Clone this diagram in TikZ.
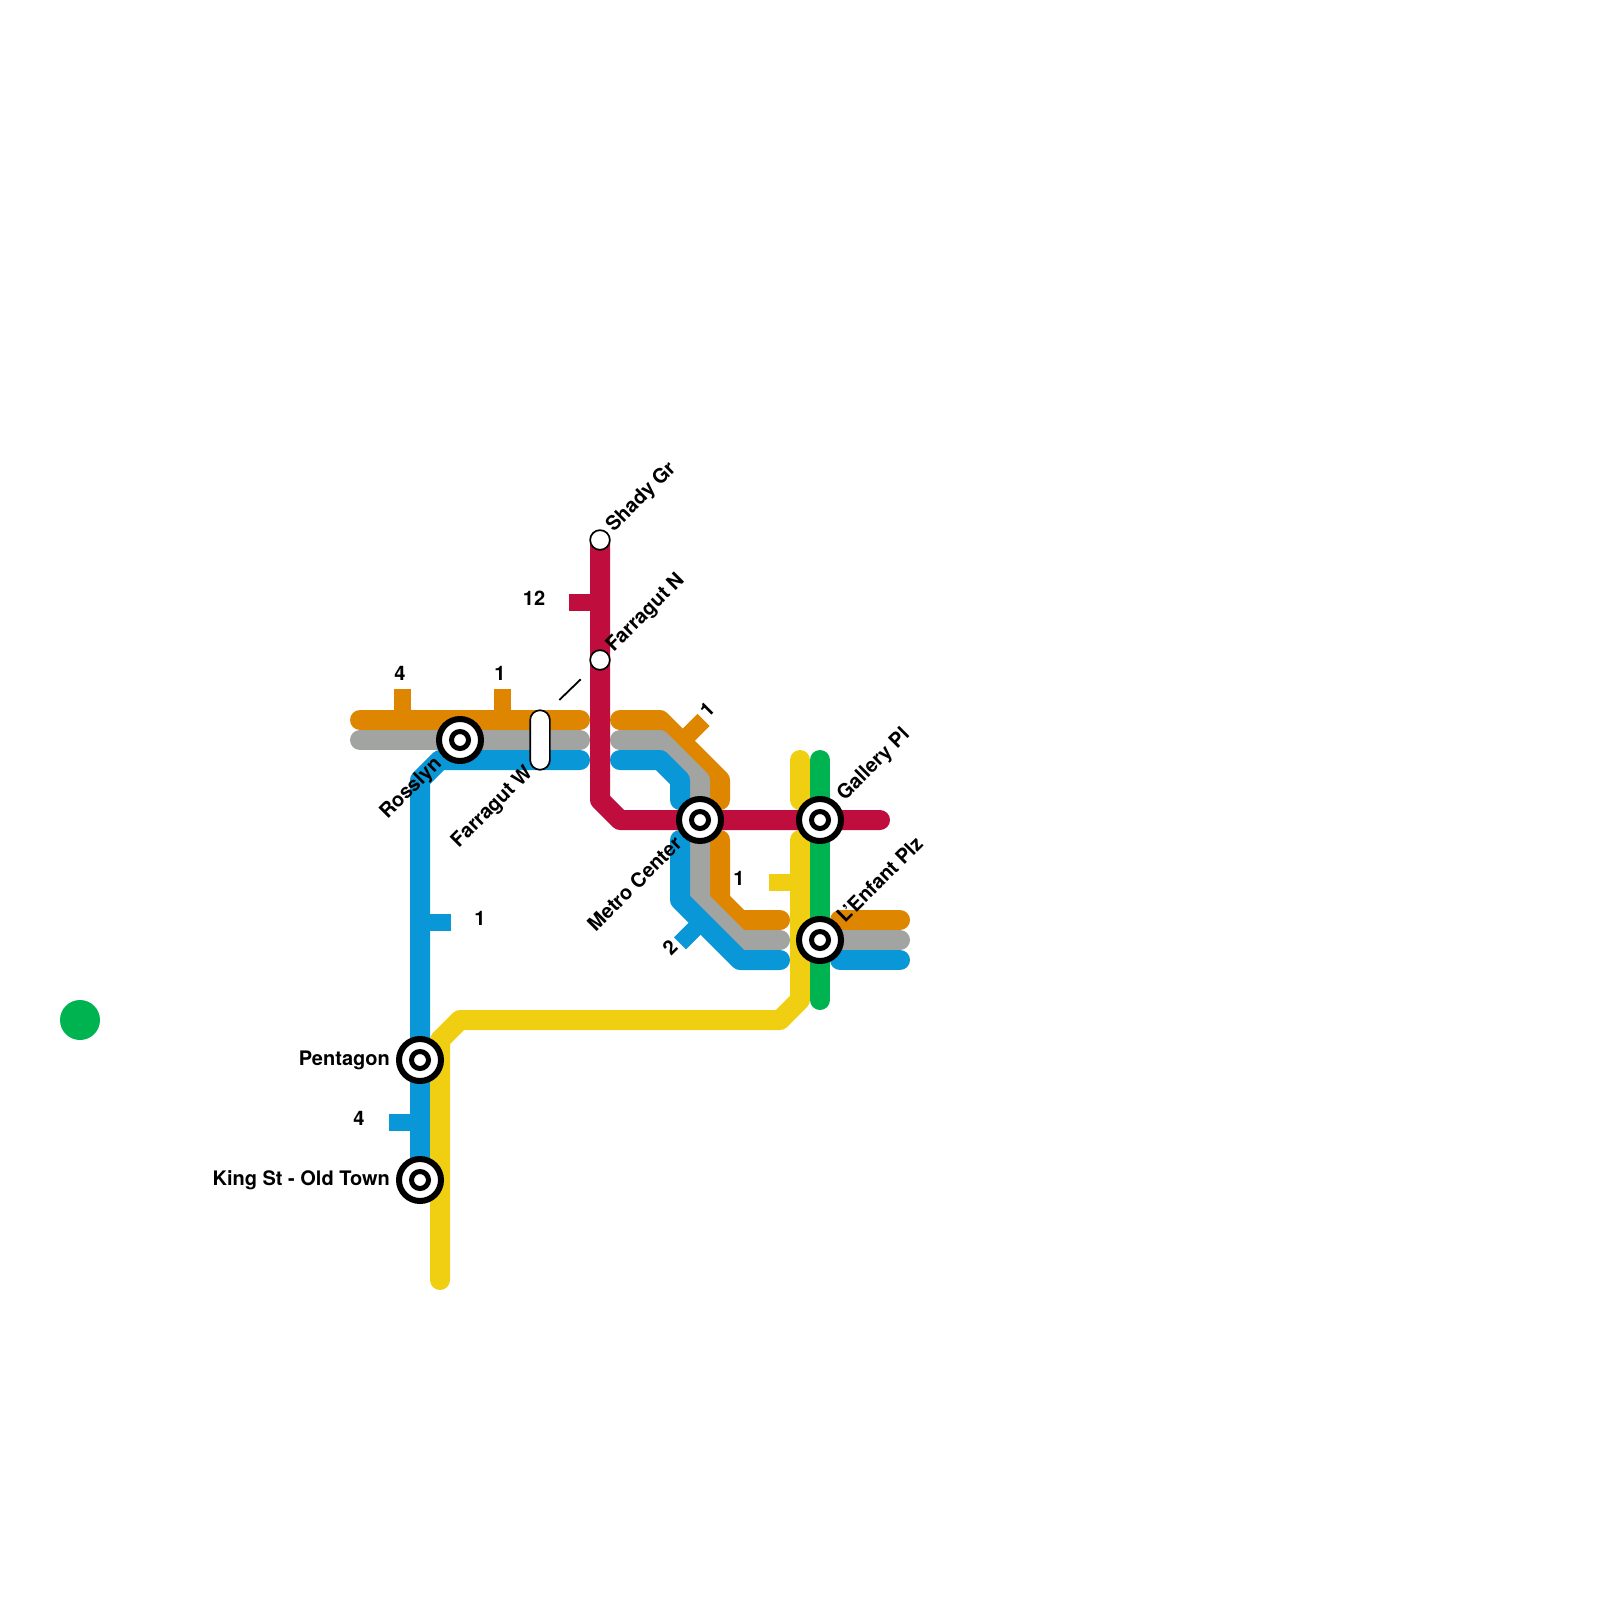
\documentclass[tikz,border=0pt]{standalone}
\usepackage{fontspec}
\setmainfont{TeX Gyre Heros}
\usetikzlibrary{backgrounds}
\definecolor{mOrange}{HTML}{DF8600}
\definecolor{mGray}{HTML}{A2A4A1}
\definecolor{mBlue}{HTML}{0997D8}
\definecolor{mRed}{HTML}{BF0D3E}
\definecolor{mGreen}{HTML}{00B351}
\definecolor{mYellow}{HTML}{F0CF12}
\tikzset{
  x=1pt,y=-1pt,
  route/.style={line width=20pt,line cap=round,line join=round},
  stub/.style={line width=17pt,line cap=butt},
  hub/.style={circle,draw=black,fill=white,line width=6pt,minimum size=42pt,inner sep=0pt},
  hubcore/.style={circle,draw=black,fill=white,line width=5pt,minimum size=17pt,inner sep=0pt},
  endstop/.style={circle,draw=black,fill=white,line width=1.7pt,minimum size=19.7pt,inner sep=0pt},
  pill/.style={rectangle,rounded corners=9.8pt,draw=black,fill=white,line width=1.7pt,minimum width=19.7pt,minimum height=59.5pt,inner sep=0pt},
  lab/.style={font=\fontsize{20}{20}\selectfont\bfseries,text=black,inner sep=0pt},
  num/.style={lab},
}
\begin{document}
\begin{tikzpicture}
\path[use as bounding box] (0,0) rectangle (1600,1600);

% stations
\node[hub] (rosslyn) at (460,740) {}; \node[hubcore] (rosslynC) at (rosslyn) {};
\node[hub] (metro) at (700,820) {}; \node[hubcore] (metroC) at (metro) {};
\node[hub] (gallery) at (820,820) {}; \node[hubcore] (galleryC) at (gallery) {};
\node[hub] (lenfant) at (820,940) {}; \node[hubcore] (lenfantC) at (lenfant) {};
\node[hub] (pentagon) at (420,1060) {}; \node[hubcore] (pentagonC) at (pentagon) {};
\node[hub] (king) at (420,1180) {}; \node[hubcore] (kingC) at (king) {};
\node[endstop] (shady) at (600,540) {};
\node[endstop] (farN) at (600,660) {};
\node[pill] (farW) at (540,740) {};

% station labels
\node[lab,anchor=west,rotate=45] (tShady) at (610,529) {Shady Gr};
\node[lab,anchor=west,rotate=45] (tFarN) at (610,649) {Farragut N};
\node[lab,anchor=east,rotate=45] (tRoss) at (439,761) {Rosslyn};
\node[lab,anchor=east,rotate=45] (tFarW) at (530,770) {Farragut W};
\node[lab,anchor=east,rotate=45] (tMetro) at (678,840) {Metro Center};
\node[lab,anchor=west,rotate=45] (tGal) at (841,798) {Gallery Pl};
\node[lab,anchor=west,rotate=45] (tLen) at (840,919) {L'Enfant Plz};
\node[lab,anchor=east] (tPen) at (390,1060) {Pentagon};
\node[lab,anchor=east] (tKing) at (390,1180) {King St - Old Town};

% numbers
\node[num] (n4a) at (400,673) {4};
\node[num] (n1a) at (500,673) {1};
\node[num] (n12) at (534,598) {12};
\node[num,rotate=45] (n1b) at (707,710) {1};
\node[num] (n1c) at (739,878) {1};
\node[num,rotate=45] (n2) at (670,947) {2};
\node[num] (n1d) at (480,918) {1};
\node[num] (n4b) at (359,1118) {4};

% free ends of stubs and of the transfer link
\coordinate (tA) at (559.3,700);
\coordinate (tB) at (580.7,679.3);

\begin{scope}[on background layer]
  % stubs
  \draw[stub,mOrange] (402.5,720) -- (402.5,689);
  \draw[stub,mOrange] (502.5,720) -- (502.5,689);
  \draw[stub,mOrange] (681.75,741.75) -- (703.5,720);
  \draw[stub,mBlue] (701.65,921.65) -- (680,943.3);
  \draw[stub,mBlue] (420,922.5) -- (451,922.5);
  \draw[stub,mBlue] (420,1122.5) -- (389,1122.5);
  \draw[stub,mRed] (600,602.5) -- (569,602.5);
  \draw[stub,mYellow] (800,882.5) -- (769,882.5);
  % orange
  \draw[route,mOrange] (360,720) -- (580,720);
  \draw[route,mOrange] (620,720) -- (660,720) -- (720,780) -- (720,800);
  \draw[route,mOrange] (720,840) -- (720,900) -- (740,920) -- (780,920);
  \draw[route,mOrange] (840,920) -- (900,920);
  % gray
  \draw[route,mGray] (360,740) -- (580,740);
  \draw[route,mGray] (620,740) -- (660,740) -- (700,780) -- (metro.center) -- (700,900) -- (740,940) -- (780,940);
  \draw[route,mGray] (lenfant.center) -- (900,940);
  % blue
  \draw[route,mBlue] (king.center) -- (420,780) -- (440,760) -- (580,760);
  \draw[route,mBlue] (620,760) -- (660,760) -- (680,780) -- (680,800);
  \draw[route,mBlue] (680,840) -- (680,900) -- (740,960) -- (780,960);
  \draw[route,mBlue] (840,960) -- (900,960);
  % yellow
  \draw[route,mYellow] (800,760) -- (800,800);
  \draw[route,mYellow] (800,840) -- (800,1000) -- (780,1020) -- (460,1020) -- (440,1040) -- (440,1280);
  % red
  \draw[route,mRed] (shady.center) -- (600,800) -- (620,820) -- (880,820);
  % green
  \draw[route,mGreen] (820,760) -- (820,1000);
  \fill[mGreen] (80,1020) circle[radius=20];
\end{scope}

% transfer link
\draw[black,line width=1.8pt] (tA) -- (tB);
\end{tikzpicture}
\end{document}
